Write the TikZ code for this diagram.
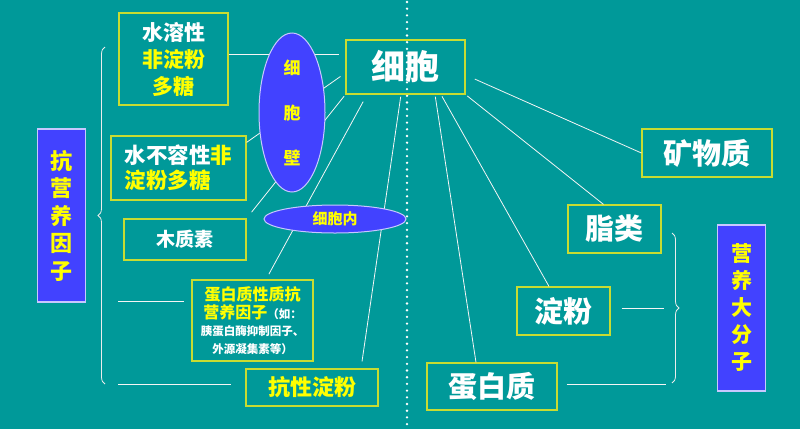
\documentclass[tikz,border=0pt]{standalone}
\usepackage{fontspec}
\setmainfont{Noto Sans CJK SC}
\usetikzlibrary{shapes.geometric,decorations.pathreplacing}
\definecolor{bgteal}{HTML}{009999}
\definecolor{boxline}{HTML}{C8DC32}
\definecolor{deepblue}{HTML}{4242FF}
\definecolor{paleblue}{HTML}{C8C8FF}
\definecolor{hl}{HTML}{FFFF00}
\tikzstyle{itembox} = [rectangle, draw=boxline, line width=1.2pt, text=white, align=center, inner sep=0pt]
\tikzstyle{groupbox} = [rectangle, draw=paleblue, line width=1.2pt, fill=deepblue, text=hl, align=center, inner sep=0pt]
\tikzstyle{wall} = [ellipse, draw=paleblue, line width=1pt, fill=deepblue, text=hl, align=center, inner sep=0pt]
\tikzstyle{link} = [draw=white!92!gray, line width=0.8pt]
\tikzstyle{bracket} = [draw=white!85!gray, line width=0.8pt, decorate, decoration={brace, amplitude=7pt}]
\tikzstyle{divider} = [draw=white, line width=2.6pt, line cap=round, dash pattern=on 0pt off 6.7pt]

\begin{document}
\begin{tikzpicture}[x=1pt, y=-1pt]
        \fill[bgteal] (0,0) rectangle (800,429);
        \useasboundingbox (0,0) rectangle (800,429);
        \draw[divider] (407,2) -- (407,429);
        % left group
        \node (shuirong) [itembox, minimum width=109pt, minimum height=92pt, font=\bfseries\fontsize{21}{27}\selectfont] at (173.5,59) {水溶性\\{\color{hl}非淀粉}\\{\color{hl}多糖}};
        \node (xibao) [itembox, minimum width=119pt, minimum height=54pt, font=\bfseries\fontsize{34}{40}\selectfont] at (405.5,67) {细胞};
        \node (buron) [itembox, align=left, minimum width=135pt, minimum height=64pt, font=\bfseries\fontsize{21.5}{25}\selectfont] at (178.5,168) {水不容性{\color{hl}非}\\{\color{hl}淀粉多糖}};
        \node (muzhi) [itembox, minimum width=122pt, minimum height=41pt, font=\bfseries\fontsize{19}{23}\selectfont] at (185,239.5) {木质素};
        \node (danbaixing) [itembox, minimum width=121pt, minimum height=81pt, font=\bfseries\fontsize{16}{17.7}\selectfont] at (252.5,320.5) {{\color{hl}蛋白质性质抗}\\{\color{hl}营养因子}{\fontsize{11.5}{14}\selectfont （如：}\\{\fontsize{11.5}{14}\selectfont 胰蛋白酶抑制因子、}\\{\fontsize{11.5}{14}\selectfont 外源凝集素等）}};
        \node (kangxing) [itembox, text=hl, minimum width=132pt, minimum height=37pt, font=\bfseries\fontsize{22}{26}\selectfont] at (312,387.5) {抗性淀粉};
        \node (kangying) [groupbox, minimum width=48pt, minimum height=173pt, font=\bfseries\fontsize{22}{27.5}\selectfont] at (61.5,215.5) {抗\\营\\养\\因\\子};
        % right group
        \node (kuangwu) [itembox, minimum width=130pt, minimum height=48pt, font=\bfseries\fontsize{29}{34}\selectfont] at (707,153) {矿物质};
        \node (zhilei) [itembox, minimum width=93pt, minimum height=48pt, font=\bfseries\fontsize{29}{34}\selectfont] at (614.5,229) {脂类};
        \node (dianfen) [itembox, minimum width=93pt, minimum height=48pt, font=\bfseries\fontsize{29}{34}\selectfont] at (563.5,311) {淀粉};
        \node (danbaizhi) [itembox, minimum width=130pt, minimum height=47pt, font=\bfseries\fontsize{29}{34}\selectfont] at (492,386.5) {蛋白质};
        \node (yingyang) [groupbox, minimum width=48pt, minimum height=166pt, font=\bfseries\fontsize{21}{27}\selectfont] at (741.5,308) {营\\养\\大\\分\\子};
        % braces and stubs
        \coordinate (lbtop) at (105,47);
        \coordinate (lbbot) at (105,384);
        \coordinate (rbtop) at (672,233);
        \coordinate (rbbot) at (672,383);
        \draw[bracket] (lbbot) -- (lbtop);
        \draw[bracket] (rbtop) -- (rbbot);
        \coordinate (lstub1) at (118,301);
        \coordinate (lstub2) at (118,384);
        \coordinate (rstub1) at (664,308);
        \coordinate (rstub2) at (666,384);
        \draw[link, shorten >=7pt] (lstub1) -- (lstub1 -| danbaixing.west);
        \draw[link, shorten >=14pt] (lstub2) -- (lstub2 -| kangxing.west);
        \draw[link, shorten <=11pt] (dianfen.east |- rstub1) -- (rstub1);
        \draw[link, shorten <=9pt] (danbaizhi.east |- rstub2) -- (rstub2);
        % links from the cell
        \draw[link, shorten >=6pt] ([yshift=5pt]shuirong.east) -- ([yshift=5pt]shuirong.east -| xibao.west);
        \draw[link, shorten <=6pt] ([yshift=-6pt]xibao.west) -- ([yshift=-7pt]buron.north east);
        \draw[link, shorten <=2pt, shorten >=8pt] (xibao.south west) -- (muzhi.north east);
        \draw[link, shorten <=8pt, shorten >=6pt] ([xshift=-38.5pt]xibao.south) -- ([xshift=13.5pt]danbaixing.north);
        \draw[link, shorten <=2pt, shorten >=7pt] ([xshift=-4.5pt]xibao.south) -- ([xshift=49pt]kangxing.north);
        \draw[link, shorten <=10pt] ([yshift=-8pt]xibao.east) -- (kuangwu.west);
        \draw[link, shorten <=2pt] (xibao.south east) -- ([xshift=-11pt]zhilei.north);
        \draw[link, shorten <=2pt] ([xshift=35.5pt]xibao.south) -- ([xshift=-14.5pt]dianfen.north);
        \draw[link, shorten <=2pt] ([xshift=29.5pt]xibao.south) -- ([xshift=-16pt]danbaizhi.north);
        % ellipses on top
        \node (bi) [wall, minimum width=66pt, minimum height=159pt, font=\bfseries\fontsize{17}{45}\selectfont] at (292,112.5) {细\\胞\\壁};
        \node (nei) [wall, minimum width=142pt, minimum height=28pt, font=\bfseries\fontsize{15}{18}\selectfont] at (335,219) {细胞内};
    \end{tikzpicture}
\end{document}
